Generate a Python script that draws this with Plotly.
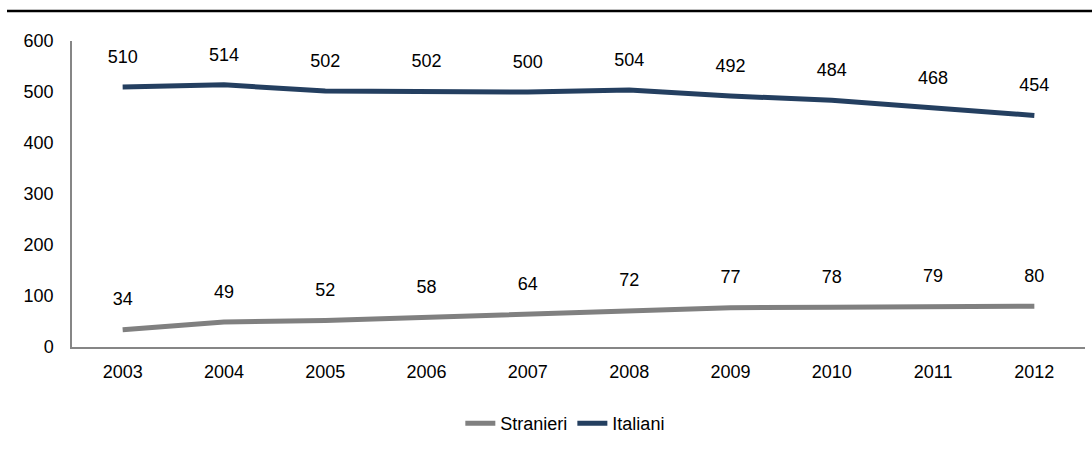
import plotly.graph_objects as go

years = ["2003", "2004", "2005", "2006", "2007", "2008", "2009", "2010", "2011", "2012"]
stranieri = [34, 49, 52, 58, 64, 72, 77, 78, 79, 80]
italiani = [510, 514, 502, 502, 500, 504, 492, 484, 468, 454]
y_ticks = [0, 100, 200, 300, 400, 500, 600]

FONT = "Liberation Sans Narrow, Arial Narrow, Liberation Sans, Arial, sans-serif"
FS = 18
GREY = "#808080"
NAVY = "#243F60"

fig = go.Figure()
for name, vals, col in (("Stranieri", stranieri, GREY), ("Italiani", italiani, NAVY)):
    fig.add_trace(go.Scatter(
        x=years, y=vals, mode="lines+markers+text", name=name,
        text=[str(v) for v in vals], textposition="top center",
        textfont=dict(family=FONT, size=FS, color="#000000"),
        marker=dict(size=30, color="rgba(0,0,0,0)", line=dict(width=0)),
        line=dict(color=col, width=5), cliponaxis=False, hoverinfo="skip"))

fig.update_layout(
    width=1092, height=452,
    margin=dict(l=72, r=7, t=41, b=105),
    paper_bgcolor="white", plot_bgcolor="white",
    font=dict(family=FONT, size=FS, color="#000000"),
    showlegend=True,
    legend=dict(orientation="h", x=0.487, xanchor="center", y=-0.25, yanchor="middle",
                font=dict(family=FONT, size=FS), itemwidth=30, tracegroupgap=0),
    shapes=[dict(type="line", xref="paper", yref="paper",
                 x0=(7 - 72) / 1013, x1=(1092 - 72) / 1013, y0=1.098, y1=1.098,
                 line=dict(color="#000000", width=2.5))],
)
fig.update_xaxes(type="category", range=[-0.5, 9.5], showline=True, linecolor="#868686",
                 linewidth=1.5, showgrid=False, zeroline=False, ticks="", ticklabelstandoff=8,
                 tickfont=dict(family=FONT, size=FS))
fig.update_yaxes(range=[0, 600], tickvals=y_ticks, ticktext=[str(t) for t in y_ticks],
                 showline=True, linecolor="#868686", linewidth=1.5, showgrid=False,
                 zeroline=False, ticks="", ticklabelstandoff=13,
                 tickfont=dict(family=FONT, size=FS))

fig.write_html("out.html", config={"displayModeBar": False},
               post_script="document.body.style.margin='0';")
